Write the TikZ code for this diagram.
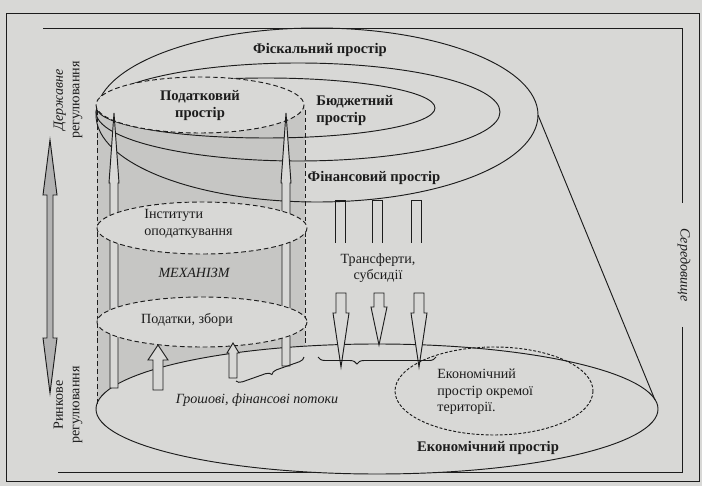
\documentclass[tikz,border=0pt]{standalone}
\usepackage{fontspec}
\setmainfont{Liberation Serif}
\usetikzlibrary{decorations.pathreplacing}
\definecolor{paper}{RGB}{216,216,214}
\definecolor{tint}{RGB}{198,198,196}
\definecolor{ink}{RGB}{28,28,28}
% block arrow: x, tail y, head base y, tip y, half shaft, half head
\newcommand{\blockarrow}[6]{%
  \draw[ink,fill=paper] (#1-#5,#2) -- (#1-#5,#3) -- (#1-#6,#3) -- (#1,#4)
    -- (#1+#6,#3) -- (#1+#5,#3) -- (#1+#5,#2) -- cycle;}

\begin{document}
\begin{tikzpicture}[x=0.03cm,y=-0.03cm,line width=0.8pt,
  every node/.style={font=\fontsize{12}{14}\selectfont,text=ink},
  title/.style={font=\bfseries\fontsize{12.5}{14.5}\selectfont,align=center},
  plain/.style={align=center},
  tagline/.style={font=\itshape\fontsize{12}{14}\selectfont,align=center},
  ring/.style={draw=ink,dash pattern=on 4pt off 2.5pt,fill=paper}]
  \fill[paper] (0,0) rectangle (702,486);
  \useasboundingbox (0,0) rectangle (702,486);
  % frame and environment
  \draw[ink,thin] (6,13) rectangle (699,481);
  \draw[ink] (43,28) -- (682,28) -- (682,203);
  \draw[ink] (682,327) -- (682,472) -- (58,472);
  \node[tagline,rotate=-90] (env) at (684,265) {Середовище};

  % cylinder tint and economic space
  \fill[tint] (97,105) rectangle (305,410);
  \draw[ink,fill=paper] (377,409) ellipse [x radius=281,y radius=65];
  % fiscal, financial and budget spaces
  \draw[ink] (317,115) ellipse [x radius=221,y radius=87];
  \draw[ink] (298,112) ellipse [x radius=202,y radius=49];
  \draw[ink] (266,108) ellipse [x radius=169,y radius=30];
  \draw[ink] (538,115) -- (655,400);

  % cylinder of the tax mechanism
  \draw[ink,dash pattern=on 4pt off 2.5pt] (97,110) -- (97,404);
  \draw[ink,dash pattern=on 4pt off 2.5pt] (305,110) -- (305,344);
  \draw[ring] (200,105) ellipse [x radius=104,y radius=28];
  \blockarrow{114}{388}{183}{113}{4}{5}
  \blockarrow{286}{366}{183}{113}{4}{5}
  \draw[ring] (202,228) ellipse [x radius=105,y radius=26];
  \draw[ring] (202,322) ellipse [x radius=105,y radius=25];
  \blockarrow{158}{390}{360}{345}{5}{10}
  \blockarrow{233}{378}{353}{343}{4}{6}
  \draw[ink,decorate,decoration={brace,mirror,amplitude=5pt}] (236,381) -- (304,357);

  % transfers
  \foreach \xa in {340,377,416}
    \draw[ink] (\xa-5,243) -- (\xa-5,200) -- (\xa+5,200) -- (\xa+5,243);
  \blockarrow{341}{293}{313}{367}{5}{8}
  \blockarrow{379}{293}{307}{345}{5}{8}
  \blockarrow{419}{293}{313}{367}{5}{8}
  \draw[ink,decorate,decoration={brace,mirror,amplitude=6pt,aspect=0.33}] (318,357) -- (436,357);
  \draw[ink,dash pattern=on 2.5pt off 1.5pt] (494,391) ellipse [x radius=99,y radius=44];

  % labels
  \node[title] (fiscal) at (320,50) {Фіскальний простір};
  \node[title,align=left,anchor=west] (budget) at (312,111) {Бюджетний\\простір};
  \node[title] (finance) at (374,178) {Фінансовий простір};
  \node[title] (taxspace) at (200,106) {Податковий\\простір};
  \node[plain,align=left,anchor=west] (inst) at (140,224) {Інститути\\оподаткування};
  \node[tagline] (mech) at (194,273) {МЕХАНІЗМ};
  \node[plain] (taxes) at (187,320) {Податки, збори};
  \node[plain] (transf) at (378,268) {Трансферти,\\субсидії};
  \node[tagline] (flows) at (257,400) {Грошові, фінансові потоки};
  \node[plain,align=left,anchor=west] (terr) at (433,392) {Економічний\\простір окремої\\території.};
  \node[title] (econ) at (488,448) {Економічний простір};

  % state and market regulation
  \draw[ink,fill=gray!60] (47,195) -- (47,338) -- (43,338) -- (50,393) -- (57,338)
    -- (53,338) -- (53,195) -- (57,195) -- (50,140) -- (43,195) -- cycle;
  \node[plain,rotate=90] (state) at (68,100) {\textit{Державне}\\регулювання};
  \node[plain,rotate=90] (market) at (68,405) {Ринкове\\регулювання};
\end{tikzpicture}
\end{document}
